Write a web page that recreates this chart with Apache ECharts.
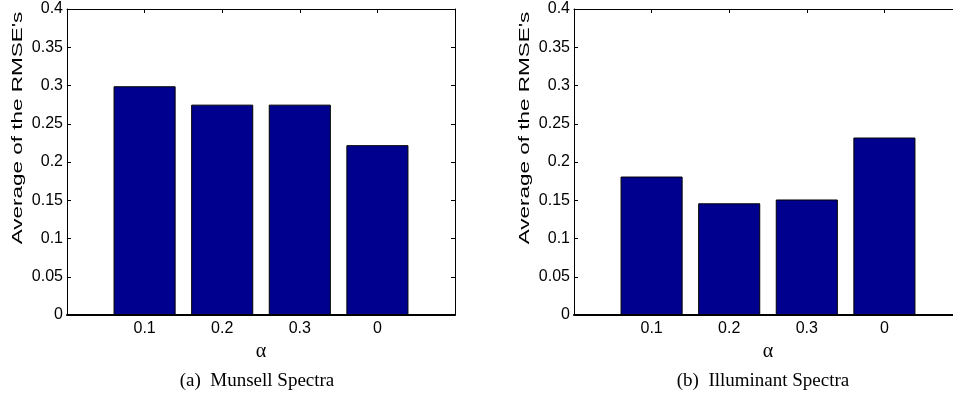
<!DOCTYPE html>
<html>
<head>
<meta charset="utf-8">
<script src="https://cdn.jsdelivr.net/npm/echarts@6/dist/echarts.min.js"></script>
<style>
html,body{margin:0;padding:0;background:#fff;}
#c{width:953px;height:395px;}
</style>
</head>
<body>
<div id="c"></div>
<script>
const categories = ['0.1', '0.2', '0.3', '0'];
const munsellValues = [0.299, 0.275, 0.275, 0.222];
const illuminantValues = [0.181, 0.146, 0.151, 0.232];
const yTicks = [0, 0.05, 0.1, 0.15, 0.2, 0.25, 0.3, 0.35, 0.4];
const yTitle = "Average of the RMSE's";
const xTitle = 'α';
const captions = ['(a)  Munsell Spectra', '(b)  Illuminant Spectra'];

const sans = 'Liberation Sans, Arial, Helvetica, sans-serif';
const serif = 'Liberation Serif, Times New Roman, serif';
const barColor = '#00008F';

const grids = [
  { left: 67, top: 9, width: 388, height: 306, outerBoundsMode: 'none', containLabel: false },
  { left: 574, top: 9, width: 388, height: 306, outerBoundsMode: 'none', containLabel: false }
];

const xAxes = [];
const yAxes = [];
const series = [];
const valueSets = [munsellValues, illuminantValues];

grids.forEach((g, gi) => {
  const base = {
    gridIndex: gi, type: 'value', min: 0, max: categories.length + 1, interval: 1,
    splitLine: { show: false }
  };
  xAxes.push(Object.assign({}, base, {
    position: 'bottom',
    axisLine: { show: true, onZero: false, lineStyle: { color: '#000', width: 2 } },
    axisTick: { show: true, inside: true, length: 4, lineStyle: { color: '#000' } },
    axisLabel: {
      color: '#000', fontFamily: sans, fontSize: 16, margin: 6,
      formatter: v => (v >= 1 && v <= categories.length) ? categories[v - 1] : ''
    },
    name: xTitle, nameLocation: 'middle', nameGap: 25,
    nameTextStyle: { color: '#000', fontFamily: serif, fontSize: 20 }
  }));
  xAxes.push(Object.assign({}, base, {
    position: 'top',
    axisLine: { show: true, onZero: false, lineStyle: { color: '#000', width: 1 } },
    axisTick: { show: true, inside: true, length: 4, lineStyle: { color: '#000' } },
    axisLabel: { show: false }
  }));
  const ybase = {
    gridIndex: gi, type: 'value', min: yTicks[0], max: yTicks[yTicks.length - 1], interval: 0.05,
    splitLine: { show: false }
  };
  yAxes.push(Object.assign({}, ybase, {
    position: 'left',
    axisLine: { show: true, onZero: false, lineStyle: { color: '#000', width: 1 } },
    axisTick: { show: true, inside: true, length: 4, lineStyle: { color: '#000' } },
    axisLabel: {
      color: '#000', fontFamily: sans, fontSize: 16, margin: 4,
      formatter: v => String(parseFloat(v.toFixed(2)))
    }
  }));
  yAxes.push(Object.assign({}, ybase, {
    position: 'right',
    axisLine: { show: true, onZero: false, lineStyle: { color: '#000', width: 1 } },
    axisTick: { show: true, inside: true, length: 4, lineStyle: { color: '#000' } },
    axisLabel: { show: false }
  }));
  series.push({
    type: 'bar',
    xAxisIndex: gi * 2,
    yAxisIndex: gi * 2,
    barWidth: '80%',
    data: valueSets[gi].map((v, i) => [i + 1, v]),
    itemStyle: { color: barColor, borderColor: '#000', borderWidth: 1 },
    silent: true
  });
});

const graphics = [];
const captionTitles = [];
grids.forEach((g, gi) => {
  graphics.push({
    type: 'text',
    x: g.left - 49,
    y: 128,
    rotation: Math.PI / 2,
    scaleX: 1.45,
    style: {
      text: yTitle, fill: '#000', fontFamily: sans, fontSize: 15.5,
      textAlign: 'center', textVerticalAlign: 'middle'
    }
  });
  captionTitles.push({
    text: captions[gi],
    left: g.left + g.width / 2 - (gi === 0 ? 9 : 10),
    top: 367,
    textAlign: 'center',
    textStyle: { color: '#000', fontFamily: serif, fontSize: 19, fontWeight: 'normal' }
  });
});

const chart = echarts.init(document.getElementById('c'));
chart.setOption({
  animation: false,
  backgroundColor: '#fff',
  title: captionTitles,
  grid: grids,
  xAxis: xAxes,
  yAxis: yAxes,
  series: series,
  graphic: graphics
});
</script>
</body>
</html>
